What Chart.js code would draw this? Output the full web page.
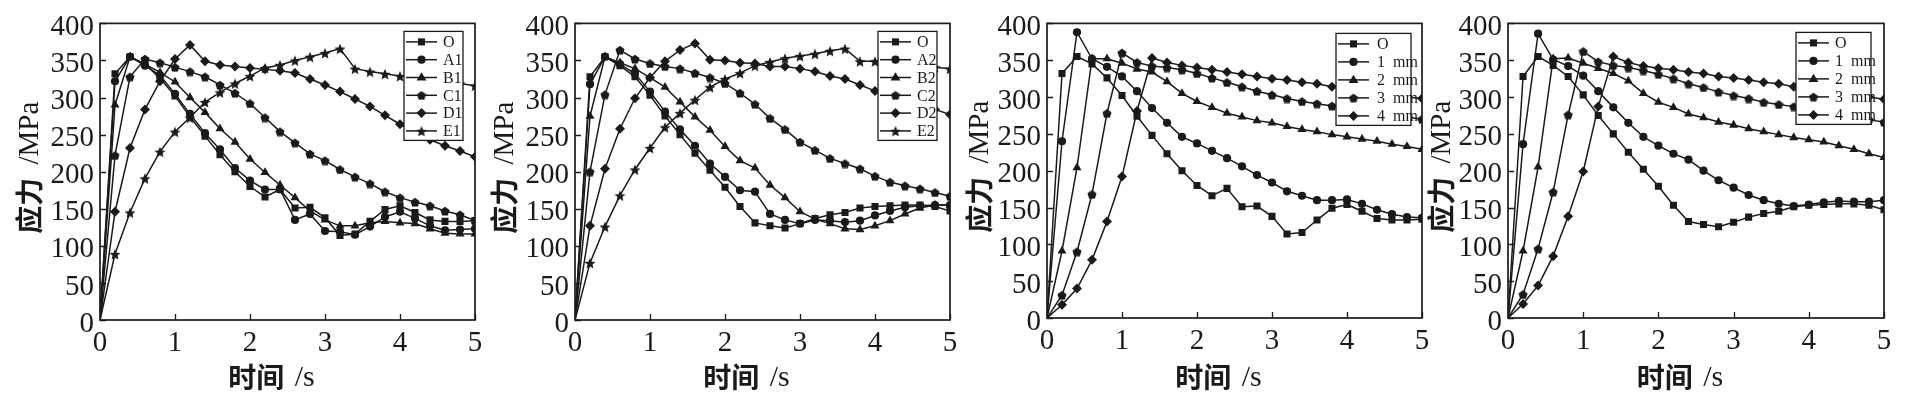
<!DOCTYPE html>
<html>
<head>
<meta charset="utf-8">
<script src="https://cdn.jsdelivr.net/npm/chart.js@4.4.0/dist/chart.umd.min.js"></script>
<style>
html, body { margin: 0; padding: 0; background: #fff; }
#wrap { position: relative; width: 1909px; height: 393px; overflow: hidden; background: #fff; }
#wrap canvas { position: absolute; left: 0; top: 0; }
</style>
</head>
<body>
<div id="wrap">
  <canvas id="c1" width="1909" height="393"></canvas>
  <canvas id="c2" width="1909" height="393"></canvas>
  <canvas id="c3" width="1909" height="393"></canvas>
  <canvas id="c4" width="1909" height="393"></canvas>
</div>
<script>
// time axis, s
const times = [0, 0.2, 0.4, 0.6, 0.8, 1.0, 1.2, 1.4, 1.6, 1.8, 2.0, 2.2, 2.4, 2.6, 2.8, 3.0, 3.2, 3.4, 3.6, 3.8, 4.0, 4.2, 4.4, 4.6, 4.8, 5.0];
const xTicks = [0, 1, 2, 3, 4, 5];
const yTicks = [0, 50, 100, 150, 200, 250, 300, 350, 400];

// reference curve O (panels 1 and 3 / panels 2 and 4)
const oCaseA = [0, 332, 355, 345, 326, 302, 274, 248, 223, 200, 180, 166, 176, 151, 152, 138, 114, 116, 133, 149, 154, 145, 135, 133, 133, 134];
const oCaseB = [0, 328, 355, 343, 328, 303, 275, 250, 225, 202, 179, 153, 131, 127, 124, 130, 137, 142, 145, 151, 153, 154, 155, 155, 153, 147];

// panel 1
const a1 = [0, 322, 355, 343, 330, 305, 278, 252, 230, 205, 188, 176, 176, 135, 143, 120, 119, 115, 126, 139, 146, 137, 127, 121, 122, 123];
const b1 = [0, 290, 355, 345, 334, 321, 300, 280, 258, 240, 217, 199, 182, 165, 147, 135, 127, 127, 131, 133, 131, 130, 123, 117, 116, 116];
const c1 = [0, 222, 328, 352, 347, 341, 335, 328, 317, 306, 292, 273, 254, 239, 224, 215, 203, 193, 184, 173, 165, 159, 154, 147, 142, 134];
const d1 = [0, 146, 232, 284, 322, 352, 371, 349, 344, 342, 340, 338, 336, 333, 325, 317, 308, 298, 288, 276, 264, 253, 243, 235, 228, 220];
const e1 = [0, 89, 145, 191, 227, 254, 273, 294, 307, 319, 329, 340, 344, 350, 355, 360, 366, 339, 335, 332, 329, 327, 324, 321, 319, 316];

// panel 2
const a2 = [0, 318, 355, 345, 332, 308, 281, 257, 235, 211, 193, 175, 173, 143, 135, 130, 135, 134, 132, 134, 141, 147, 152, 154, 155, 155];
const b2 = [0, 275, 355, 347, 339, 327, 314, 294, 274, 256, 234, 215, 205, 182, 165, 146, 136, 130, 123, 122, 127, 134, 143, 151, 155, 155];
const c2 = [0, 200, 304, 364, 352, 346, 342, 339, 333, 327, 319, 306, 291, 272, 257, 240, 229, 218, 211, 204, 194, 186, 181, 177, 172, 167];
const d2 = [0, 127, 204, 258, 299, 327, 349, 364, 373, 351, 350, 347, 346, 342, 342, 339, 335, 329, 325, 317, 309, 302, 296, 290, 284, 277];
const e2 = [0, 77, 126, 168, 203, 232, 260, 279, 297, 314, 325, 333, 343, 348, 353, 356, 359, 363, 366, 349, 349, 347, 344, 342, 341, 339];

// panel 3
const mm1p3 = [0, 240, 388, 352, 341, 328, 308, 285, 265, 246, 237, 227, 217, 206, 194, 184, 172, 166, 160, 160, 161, 155, 147, 141, 137, 136];
const mm2p3 = [0, 91, 204, 352, 352, 346, 338, 334, 321, 305, 294, 286, 278, 273, 268, 265, 260, 256, 253, 249, 246, 243, 240, 236, 233, 229];
const mm3p3 = [0, 31, 90, 168, 278, 360, 347, 342, 340, 337, 332, 326, 320, 314, 308, 303, 298, 294, 291, 288, 285, 282, 279, 276, 273, 270];
const mm4p3 = [0, 18, 40, 79, 131, 192, 281, 353, 347, 343, 340, 337, 334, 331, 328, 325, 323, 320, 318, 314, 311, 308, 306, 303, 300, 298];

// panel 4
const mm1p4 = [0, 236, 386, 351, 342, 329, 308, 286, 265, 246, 234, 223, 215, 200, 187, 177, 167, 160, 155, 152, 154, 157, 159, 158, 158, 160];
const mm2p4 = [0, 91, 205, 352, 353, 346, 339, 332, 322, 305, 293, 286, 277, 272, 266, 262, 257, 253, 249, 245, 242, 239, 234, 229, 223, 218];
const mm3p4 = [0, 32, 94, 171, 276, 362, 348, 343, 340, 336, 331, 325, 318, 313, 307, 302, 298, 293, 290, 287, 284, 280, 276, 272, 269, 266];
const mm4p4 = [0, 19, 44, 84, 138, 199, 287, 355, 347, 342, 339, 337, 334, 332, 328, 326, 323, 320, 318, 314, 311, 308, 305, 302, 300, 297];

const labelsSet1 = ['O', 'A1', 'B1', 'C1', 'D1', 'E1'];
const labelsSet2 = ['O', 'A2', 'B2', 'C2', 'D2', 'E2'];
const labelsSize = ['O', '1  mm', '2  mm', '3  mm', '4  mm'];

const ink = '#1a1a1a';
const serif = '"Liberation Serif", "Times New Roman", serif';
const cjk = '"Noto Sans CJK SC", sans-serif';

function makeMarker(kind, size) {
    let c = document.createElement('canvas');
    c.width = size;
    c.height = size;
    let g = c.getContext('2d');
    let cx = size / 2, cy = size / 2, r = size / 2 - 0.2;
    g.fillStyle = ink;
    g.beginPath();
    if (kind === 'pentagon') {
        for (let k = 0; k < 5; k++) {
            let a = -Math.PI / 2 + k * 2 * Math.PI / 5;
            g.lineTo(cx + r * Math.cos(a), cy + 0.6 + r * Math.sin(a));
        }
    } else {
        for (let k = 0; k < 10; k++) {
            let a = -Math.PI / 2 + k * Math.PI / 5;
            let rr = k % 2 === 0 ? r : r * 0.45;
            g.lineTo(cx + rr * Math.cos(a), cy + 0.8 + rr * Math.sin(a));
        }
    }
    g.closePath();
    g.fill();
    return c;
}
const pentagon = makeMarker('pentagon', 10);
const star = makeMarker('star', 12);

// marker per curve, in legend order
const markers = [
    { style: 'rect', r: 5 },
    { style: 'circle', r: 4.1 },
    { style: 'triangle', r: 5.2 },
    { style: pentagon, r: 4 },
    { style: 'rectRot', r: 5 },
    { style: star, r: 4 }
];
const markersSize = [markers[0], markers[1], markers[2], markers[3], markers[4]];

function series(label, values, mk) {
    return {
        label: label,
        data: values.map((v, i) => ({ x: times[i], y: v })),
        borderColor: ink,
        backgroundColor: ink,
        borderWidth: 1.5,
        pointStyle: mk.style,
        pointRadius: (c) => c.dataIndex === 0 ? 0 : mk.r,
        pointBackgroundColor: ink,
        pointBorderColor: ink,
        pointBorderWidth: 0,
        tension: 0
    };
}

function drawMarker(ctx, style, r, x, y) {
    if (typeof style !== 'string') {
        ctx.drawImage(style, x - style.width / 2, y - style.height / 2);
        return;
    }
    ctx.beginPath();
    if (style === 'circle') {
        ctx.arc(x, y, r, 0, Math.PI * 2);
    } else if (style === 'rect') {
        let s = r * Math.SQRT1_2;
        ctx.rect(x - s, y - s, 2 * s, 2 * s);
    } else if (style === 'rectRot') {
        ctx.moveTo(x, y - r); ctx.lineTo(x + r, y); ctx.lineTo(x, y + r); ctx.lineTo(x - r, y);
    } else if (style === 'triangle') {
        ctx.moveTo(x, y - r); ctx.lineTo(x + r * 0.95, y + r * 0.6); ctx.lineTo(x - r * 0.95, y + r * 0.6);
    }
    ctx.closePath();
    ctx.fill();
}

function drawMixed(ctx, parts, cx, cy, rotate) {
    ctx.save();
    ctx.translate(cx, cy);
    if (rotate) ctx.rotate(-Math.PI / 2);
    let total = 0;
    parts.forEach(p => { ctx.font = p.font; p.w = ctx.measureText(p.text).width + (p.gap || 0); total += p.w; });
    let x = -total / 2;
    ctx.textAlign = 'left';
    ctx.textBaseline = 'middle';
    ctx.fillStyle = ink;
    parts.forEach(p => { ctx.font = p.font; ctx.fillText(p.text, x + (p.gap || 0), p.dy || 0); x += p.w; });
    ctx.restore();
}

// frame, inward ticks, axis titles and the boxed legend
const panelDecor = {
    id: 'panelDecor',
    afterDraw(chart) {
        const ctx = chart.ctx;
        const a = chart.chartArea;
        const o = chart.options.plugins.panelDecor;
        const xs = chart.scales.x, ys = chart.scales.y;
        ctx.save();
        ctx.strokeStyle = ink;
        ctx.lineWidth = 1.3;
        ctx.beginPath();
        xs.ticks.forEach(t => {
            let px = Math.round(xs.getPixelForValue(t.value)) + 0.5;
            ctx.moveTo(px, a.bottom); ctx.lineTo(px, a.bottom - 6);
        });
        ys.ticks.forEach(t => {
            let py = Math.round(ys.getPixelForValue(t.value)) + 0.5;
            ctx.moveTo(a.left, py); ctx.lineTo(a.left + 6, py);
        });
        ctx.stroke();

        // legend
        const lg = o.legend;
        const sets = chart.data.datasets;
        const bw = lg.width;
        const bh = 20 + (sets.length - 1) * lg.rowH;
        const bx = a.right - lg.right - bw;
        const by = a.top + lg.top;
        ctx.fillStyle = '#fff';
        ctx.fillRect(bx, by, bw, bh);
        ctx.lineWidth = 1.3;
        ctx.strokeRect(bx, by, bw, bh);
        ctx.font = '16px ' + serif;
        ctx.textBaseline = 'middle';
        ctx.textAlign = 'left';
        sets.forEach((ds, k) => {
            let ry = by + 10.5 + k * lg.rowH;
            ctx.beginPath();
            ctx.lineWidth = 1.5;
            ctx.moveTo(bx + 2, ry); ctx.lineTo(bx + 33, ry);
            ctx.stroke();
            ctx.fillStyle = ink;
            drawMarker(ctx, ds.pointStyle, o.radii[k], bx + 17.5, ry);
            ctx.fillText(ds.label, bx + lg.textX, ry + 1);
        });

        // frame
        ctx.lineWidth = 1.7;
        ctx.strokeRect(a.left, a.top, a.right - a.left, a.bottom - a.top);

        // axis titles
        drawMixed(ctx, [
            { text: '时间', font: 'bold 28px ' + cjk },
            { text: ' /s', font: '30px ' + serif, dy: 1, gap: 3 }
        ], (a.left + a.right) / 2 - 16, 377, false);
        drawMixed(ctx, [
            { text: '应力', font: 'bold 28px ' + cjk },
            { text: ' /MPa', font: '29px ' + serif, dy: 1, gap: 6 }
        ], a.left - o.yTitleGap, (a.top + a.bottom) / 2 - 4, true);
        ctx.restore();
    }
};

function makePanel(id, box, datasets, legend, yTitleGap) {
    new Chart(document.getElementById(id), {
        type: 'line',
        data: { datasets: datasets },
        plugins: [panelDecor],
        options: {
            responsive: false,
            animation: false,
            devicePixelRatio: 1,
            events: [],
            layout: { padding: { left: 0, right: 1909 - box.right, top: box.top, bottom: 0 } },
            plugins: {
                legend: { display: false },
                tooltip: { enabled: false },
                panelDecor: {
                    legend: legend,
                    yTitleGap: yTitleGap,
                    radii: datasets.map((d, k) => (k < markers.length ? markers[k].r : 4))
                }
            },
            scales: {
                x: {
                    type: 'linear',
                    min: 0,
                    max: 5,
                    afterBuildTicks: (s) => { s.ticks = xTicks.map(v => ({ value: v })); },
                    afterFit: (s) => { s.height = 393 - box.bottom; },
                    grid: { display: false, drawTicks: false },
                    border: { display: false },
                    ticks: { color: ink, padding: 6, autoSkip: false, font: { family: serif, size: 29 }, maxRotation: 0 }
                },
                y: {
                    type: 'linear',
                    min: 0,
                    max: 400,
                    afterBuildTicks: (s) => { s.ticks = yTicks.map(v => ({ value: v })); },
                    afterFit: (s) => { s.width = box.left; },
                    grid: { display: false, drawTicks: false },
                    border: { display: false },
                    ticks: { color: ink, padding: 6, labelOffset: 4, autoSkip: false, font: { family: serif, size: 29 } }
                }
            }
        }
    });
}

makePanel('c1', { left: 100, right: 475, top: 16, bottom: 320 },
    [series(labelsSet1[0], oCaseA, markers[0]), series(labelsSet1[1], a1, markers[1]),
     series(labelsSet1[2], b1, markers[2]), series(labelsSet1[3], c1, markers[3]),
     series(labelsSet1[4], d1, markers[4]), series(labelsSet1[5], e1, markers[5])],
    { right: 12, top: 8, width: 59, rowH: 17.8, textX: 39 }, 71);

makePanel('c2', { left: 575, right: 950, top: 16, bottom: 320 },
    [series(labelsSet2[0], oCaseB, markers[0]), series(labelsSet2[1], a2, markers[1]),
     series(labelsSet2[2], b2, markers[2]), series(labelsSet2[3], c2, markers[3]),
     series(labelsSet2[4], d2, markers[4]), series(labelsSet2[5], e2, markers[5])],
    { right: 13, top: 8, width: 59, rowH: 17.8, textX: 39 }, 71);

makePanel('c3', { left: 1047, right: 1422, top: 15, bottom: 318 },
    [series(labelsSize[0], oCaseA, markersSize[0]), series(labelsSize[1], mm1p3, markersSize[1]),
     series(labelsSize[2], mm2p3, markersSize[2]), series(labelsSize[3], mm3p3, markersSize[3]),
     series(labelsSize[4], mm4p3, markersSize[4])],
    { right: 11, top: 10, width: 75, rowH: 18, textX: 41 }, 68);

makePanel('c4', { left: 1508, right: 1884, top: 15, bottom: 318 },
    [series(labelsSize[0], oCaseB, markersSize[0]), series(labelsSize[1], mm1p4, markersSize[1]),
     series(labelsSize[2], mm2p4, markersSize[2]), series(labelsSize[3], mm3p4, markersSize[3]),
     series(labelsSize[4], mm4p4, markersSize[4])],
    { right: 13, top: 9, width: 75, rowH: 18, textX: 39 }, 67);
</script>
</body>
</html>
